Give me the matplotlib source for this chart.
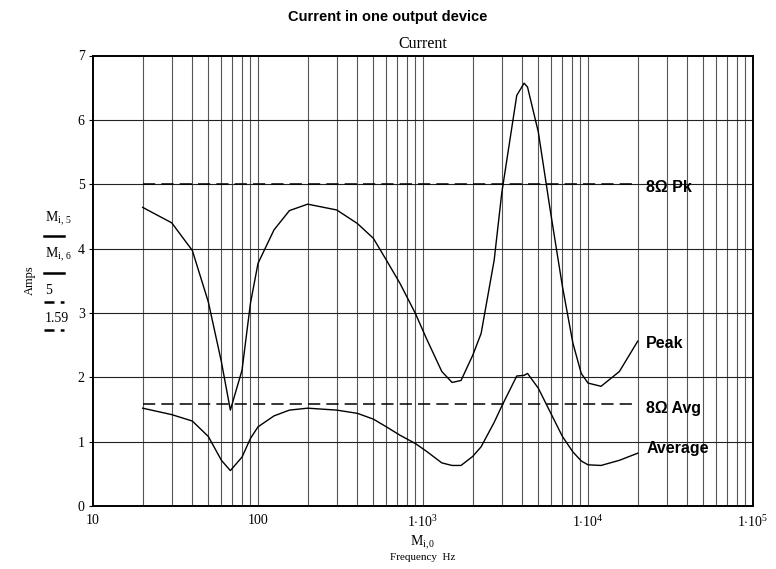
import numpy as np
import matplotlib
matplotlib.use("Agg")
import matplotlib.pyplot as plt
from matplotlib.lines import Line2D

plt.rcParams["mathtext.fontset"] = "custom"
plt.rcParams["mathtext.rm"] = "Liberation Serif"
plt.rcParams["mathtext.it"] = "Liberation Serif:italic"
plt.rcParams["font.family"] = ["Liberation Serif", "DejaVu Serif"]

# ======================= data ======================= #
freq = [20, 30, 40, 50, 60, 68, 80, 90, 100, 125, 155, 200, 300, 400, 500,
        600, 725, 900, 1050, 1300, 1500, 1700, 2000, 2250, 2700, 3000, 3700,
        4100, 4300, 5000, 5900, 7000, 8100, 9100, 10000, 12000, 15500, 20000]

peak = [4.64, 4.40, 3.97, 3.17, 2.24, 1.49, 2.11, 3.15, 3.77, 4.29, 4.59,
        4.69, 4.60, 4.39, 4.16, 3.82, 3.46, 2.99, 2.60, 2.09, 1.92, 1.95,
        2.34, 2.68, 3.82, 4.86, 6.38, 6.57, 6.51, 5.81, 4.60, 3.41, 2.53,
        2.06, 1.91, 1.86, 2.09, 2.56]

average = [1.52, 1.42, 1.32, 1.08, 0.71, 0.55, 0.76, 1.05, 1.23, 1.40, 1.49,
           1.52, 1.49, 1.44, 1.35, 1.23, 1.10, 0.97, 0.85, 0.67, 0.63, 0.63,
           0.77, 0.92, 1.30, 1.55, 2.02, 2.03, 2.06, 1.83, 1.46, 1.08, 0.84,
           0.70, 0.64, 0.63, 0.71, 0.82]

pk_8ohm = 5.0
avg_8ohm = 1.59

xticks = [10, 100, 1e3, 1e4, 1e5]
xticklabels = ["10", "100", r"$1{\cdot}10^{3}$", r"$1{\cdot}10^{4}$", r"$1{\cdot}10^{5}$"]
yticks = [0, 1, 2, 3, 4, 5, 6, 7]

# ============================ figure ============================ #
fig = plt.figure(figsize=(7.76, 5.69), dpi=100)
ax = fig.add_axes([93 / 776, 63 / 569, 660 / 776, 450.5 / 569])

# grid
ax.set_xscale("log")
ax.set_xlim(10, 1e5)
ax.set_ylim(0, 7)
for dec in [10, 100, 1000, 10000]:
    for m in range(1, 10):
        if dec == 10 and m == 1:
            continue
        ax.axvline(dec * m, color="#555555", lw=0.8, zorder=1)
for yv in range(1, 7):
    ax.axhline(yv, color="#222222", lw=0.8, zorder=1)

# curves
ax.plot(freq, peak, color="black", lw=1.0, zorder=3)
ax.plot(freq, average, color="black", lw=1.0, zorder=3)
ax.plot([freq[0], freq[-1]], [pk_8ohm, pk_8ohm], color="black", lw=1.1,
        dashes=(8, 4), zorder=3)
ax.plot([freq[0], freq[-1]], [avg_8ohm, avg_8ohm], color="black", lw=1.1,
        dashes=(8, 4), zorder=3)

# labels on the right
lab_kw = dict(family=["Liberation Sans", "DejaVu Sans"], weight="bold",
              fontsize=11.5, va="center", ha="left", zorder=4)
ax.text(22500, 4.95, "8\u03a9 Pk", **lab_kw)
ax.text(22500, 2.52, "Peak", **lab_kw)
ax.text(22500, 1.52, "8\u03a9 Avg", **lab_kw)
ax.text(22500, 0.89, "Average", **lab_kw)

# axes styling
for s in ax.spines.values():
    s.set_linewidth(1.4)
    s.set_color("black")
ax.set_xticks(xticks)
ax.set_xticklabels(xticklabels, fontsize=10)
ax.xaxis.set_minor_locator(matplotlib.ticker.NullLocator())
ax.set_yticks(yticks)
ax.set_yticklabels([str(v) for v in yticks], fontsize=10)
ax.tick_params(axis="x", length=0, pad=6)
ax.tick_params(axis="y", length=3, width=0.8, pad=3)

# titles
fig.text(388 / 776, 1 - 17 / 569, "Current in one output device",
         family=["Liberation Sans", "DejaVu Sans"], weight="bold",
         fontsize=10.5, ha="center", va="center")
fig.text(423 / 776, 1 - 44 / 569, "Current", fontsize=11.5,
         ha="center", va="center")

# x label
fig.text(423 / 776, 1 - 543 / 569, r"$\mathrm{M}_{\mathrm{i,0}}$", fontsize=10,
         ha="center", va="center")
fig.text(423 / 776, 1 - 558 / 569, "Frequency  Hz", fontsize=8,
         ha="center", va="center")

# y label + series key
fig.text(30 / 776, 1 - 280 / 569, "Amps", fontsize=9, rotation=90,
         ha="center", va="center")
key = [(r"$\mathrm{M}_{\mathrm{i,\,5}}$", 219, 236, "-"),
       (r"$\mathrm{M}_{\mathrm{i,\,6}}$", 255, 273, "-"),
       ("5", 290, 302, "--"),
       ("1.59", 319, 330, "--")]
for txt, ty, ly, ls in key:
    fig.text(45 / 776, 1 - ty / 569, txt, fontsize=10, ha="left", va="center")
    if ls == "-":
        fig.add_artist(Line2D([44 / 776, 64 / 776], [1 - ly / 569] * 2,
                              color="black", lw=1.8))
    else:
        fig.add_artist(Line2D([44 / 776, 64 / 776], [1 - ly / 569] * 2,
                              color="black", lw=1.8, dashes=(4, 2.5)))

fig.savefig("out.png", dpi=100)
